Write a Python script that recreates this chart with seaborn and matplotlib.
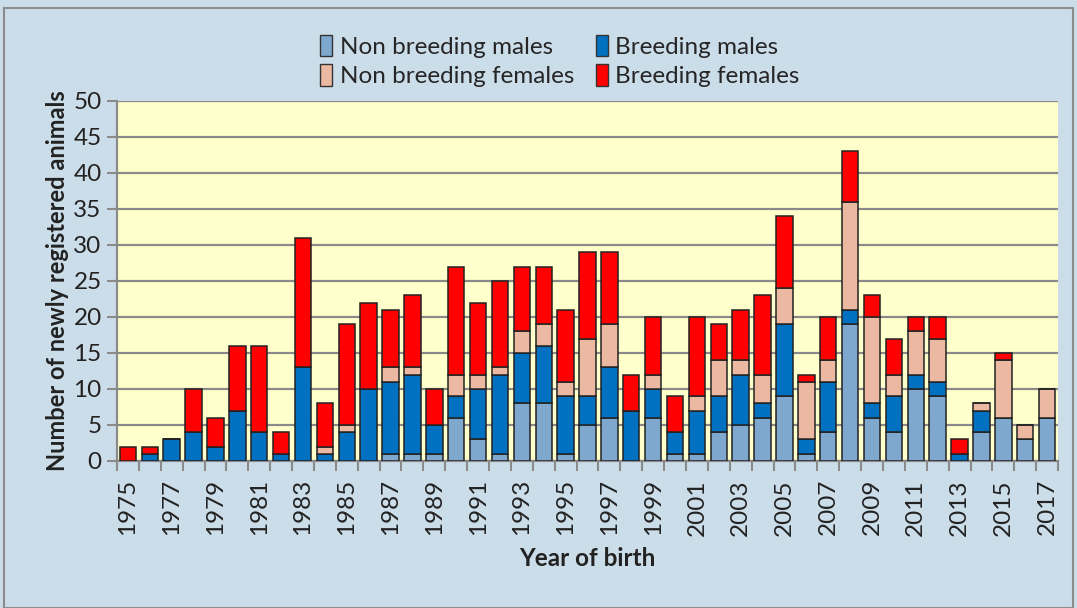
import numpy as np
import pandas as pd
import matplotlib
matplotlib.use("Agg")
import matplotlib.pyplot as plt
import matplotlib.patches as mpatches
from matplotlib.ticker import FixedLocator
import seaborn as sns

years = list(range(1975, 2018))
non_breeding_males = [0, 0, 0, 0, 0, 0, 0, 0, 0, 0, 0,
                      0, 1, 1, 1, 6, 3, 1, 8, 8, 1,
                      5, 6, 0, 6, 1, 1, 4, 5, 6, 9,
                      1, 4, 19, 6, 4, 10, 9, 0, 4, 6, 3, 6]
breeding_males = [0, 1, 3, 4, 2, 7, 4, 1, 13, 1, 4,
                  10, 10, 11, 4, 3, 7, 11, 7, 8, 8,
                  4, 7, 7, 4, 3, 6, 5, 7, 2, 10,
                  2, 7, 2, 2, 5, 2, 2, 1, 3, 0, 0, 0]
non_breeding_females = [0, 0, 0, 0, 0, 0, 0, 0, 0, 1, 1,
                        0, 2, 1, 0, 3, 2, 1, 3, 3, 2,
                        8, 6, 0, 2, 0, 2, 5, 2, 4, 5,
                        8, 3, 15, 12, 3, 6, 6, 0, 1, 8, 2, 4]
breeding_females = [2, 1, 0, 6, 4, 9, 12, 3, 18, 6, 14,
                    12, 8, 10, 5, 15, 10, 12, 9, 8, 10,
                    12, 10, 5, 8, 5, 11, 5, 7, 11, 10,
                    1, 6, 7, 3, 5, 2, 3, 2, 0, 1, 0, 0]

series_names = ["Non breeding males", "Breeding males",
                "Non breeding females", "Breeding females"]
series_values = [non_breeding_males, breeding_males,
                 non_breeding_females, breeding_females]
series_colors = ["#7FA8CE", "#0070C0", "#EBB8A2", "#FF0000"]

fig_bg = "#CCDDEA"
plot_bg = "#FFFFCC"
grid_col = "#8A8A8A"

sns.set_theme(style="white")
plt.rcParams['font.family'] = ['Lato', 'DejaVu Sans']

fig = plt.figure(figsize=(10.77, 6.08), dpi=100, facecolor=fig_bg)
ax = fig.add_axes([0.1086, 0.2418, 0.9824 - 0.1086, 0.8339 - 0.2418])
ax.set_facecolor(plot_bg)

labels = [str(y) for y in years]
bottom = np.zeros(len(years))
for name, vals, col in zip(series_names, series_values, series_colors):
    df = pd.DataFrame({"year": labels, "count": vals})
    sns.barplot(data=df, x="year", y="count", order=labels, color=col,
                width=0.75, bottom=bottom.copy(), edgecolor="#222222",
                linewidth=1.1, saturation=1, errorbar=None, ax=ax, zorder=3)
    bottom += np.array(vals)

ax.set_xlim(-0.5, len(years) - 0.5)
ax.set_ylim(0, 50)
ax.set_yticks(range(0, 51, 5))
ax.yaxis.grid(True, color=grid_col, linewidth=1.6, zorder=0)
ax.set_axisbelow(True)

ax.set_xticks(range(0, len(years), 2))
ax.set_xticklabels([labels[i] for i in range(0, len(years), 2)],
                   rotation=90, fontsize=17.5, color="#222222")
ax.xaxis.set_minor_locator(FixedLocator(np.arange(-0.5, len(years), 1.0)))
ax.tick_params(axis="x", which="major", length=0, pad=13)
ax.tick_params(axis="x", which="minor", length=7, width=1.5,
               color=grid_col, direction="out", bottom=True)
ax.tick_params(axis="y", which="major", length=7, width=1.5,
               color=grid_col, direction="out", left=True, pad=4,
               labelsize=17.5, labelcolor="#222222")

for s in ["top", "right"]:
    ax.spines[s].set_visible(False)
for s in ["left", "bottom"]:
    ax.spines[s].set_color(grid_col)
    ax.spines[s].set_linewidth(1.6)

ax.set_xlabel("Year of birth", fontsize=17.5, fontweight="bold",
              color="#222222", labelpad=8)
ax.set_ylabel("Number of newly registered animals", fontsize=17,
              fontweight="bold", color="#222222", labelpad=3)

order = [0, 2, 1, 3]
handles = [mpatches.Patch(facecolor=series_colors[i], edgecolor="#333333",
                          linewidth=1.0, label=series_names[i]) for i in order]
leg = fig.legend(handles=handles, loc="center", ncol=2,
                 frameon=False, fontsize=17.5, handlelength=0.5,
                 handleheight=1.0, handletextpad=0.3, columnspacing=0.9,
                 labelspacing=0.25)
leg.set_bbox_to_anchor((0.52, 0.9), transform=fig.transFigure)

fig.patches.append(mpatches.Rectangle((0.004, 0.0), 0.992, 0.987,
                                      transform=fig.transFigure, fill=False,
                                      edgecolor="#8C8C8C", linewidth=1.5))

fig.savefig("out.png", dpi=100, facecolor=fig_bg)
